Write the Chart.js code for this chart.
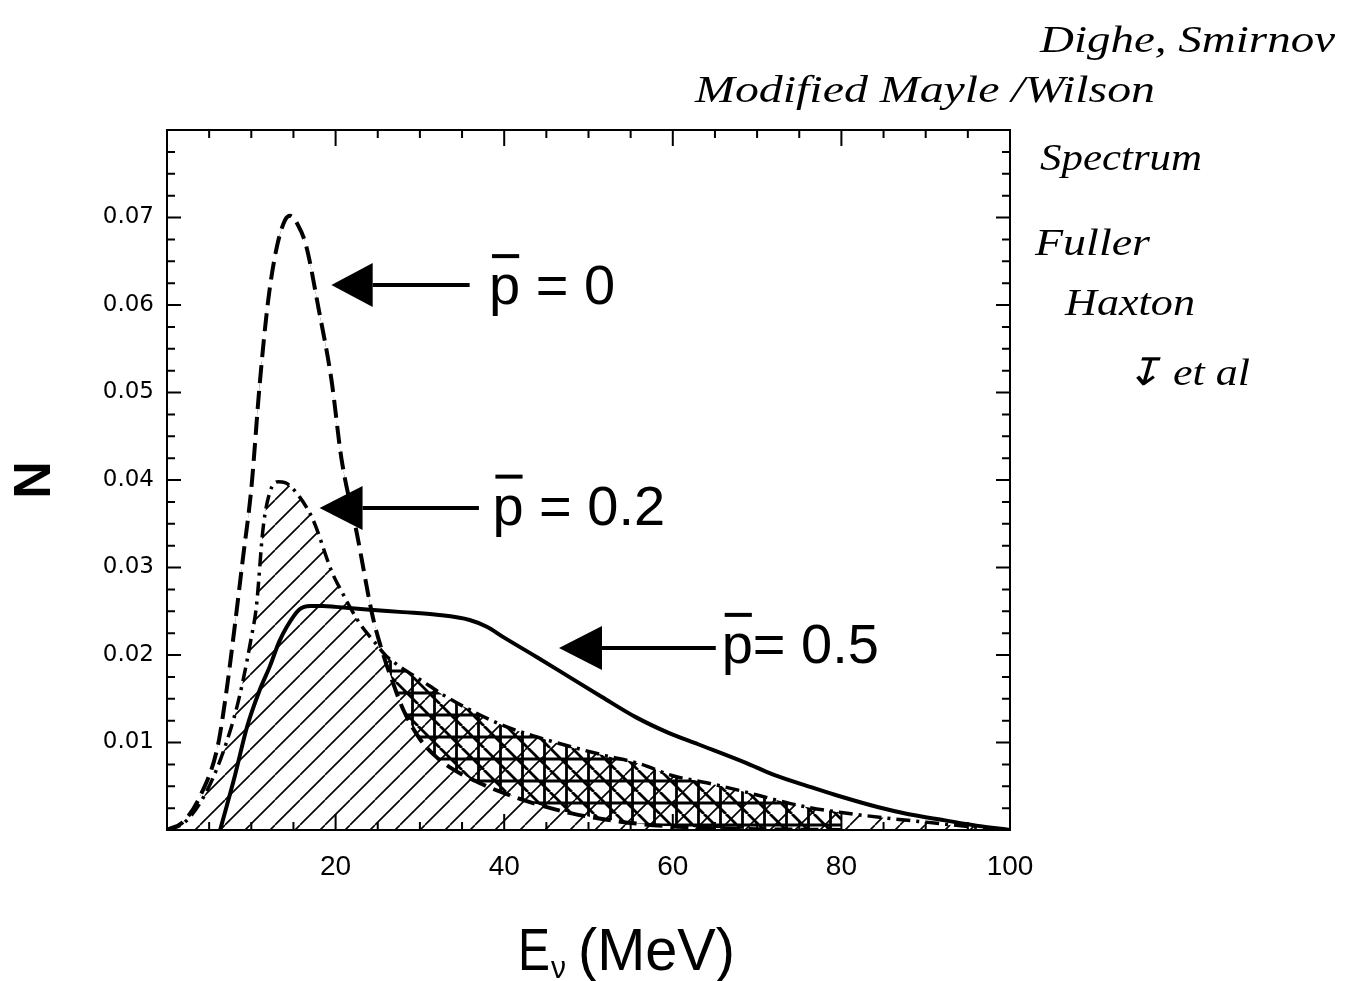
<!DOCTYPE html>
<html>
<head>
<meta charset="utf-8">
<script src="https://cdn.jsdelivr.net/npm/chart.js@4.4.0/dist/chart.umd.min.js"></script>
<style>
  html, body { margin: 0; padding: 0; background: #fff; }
  canvas { display: block; }
</style>
</head>
<body>
<canvas id="spectrumChart" width="1349" height="981"></canvas>
<script>
// E_nu (MeV) and N, one pair of arrays per p-bar curve
const energyP0 = [0, 2, 4, 6, 7, 8, 9, 10, 11, 12, 13, 14, 14.6, 15.5, 16.5, 18, 19.5, 20.7, 22.5, 24.4, 25.5, 27, 28, 30, 32, 34, 37, 40, 44, 48, 52, 56, 60, 70, 80];
const nP0 = [0, 0.001, 0.004, 0.0095, 0.0155, 0.023, 0.031, 0.039, 0.051, 0.0605, 0.0665, 0.0697, 0.0702, 0.0692, 0.0668, 0.0595, 0.0515, 0.0424, 0.034, 0.0244, 0.0205, 0.0163, 0.0138, 0.0104, 0.0083, 0.0069, 0.0054, 0.0042, 0.0029, 0.0019, 0.0012, 0.0007, 0.0004, 0.0001, 0];

const energyP02 = [0, 2, 4, 6, 8, 9, 10, 10.6, 11.4, 12.2, 13.2, 14, 15.7, 17.3, 19.6, 20.8, 22.8, 24.6, 26, 27.6, 30, 33, 36, 40, 44, 48, 52, 56, 60, 64, 68, 72, 76, 80, 85, 90, 95, 100];
const nP02 = [0, 0.0008, 0.0032, 0.0072, 0.013, 0.017, 0.022, 0.0255, 0.0345, 0.0386, 0.0398, 0.0397, 0.0381, 0.0355, 0.0294, 0.0271, 0.0237, 0.0215, 0.0199, 0.0187, 0.0172, 0.0153, 0.0137, 0.0119, 0.0106, 0.0095, 0.0085, 0.0076, 0.0062, 0.0054, 0.0045, 0.0035, 0.0026, 0.002, 0.0014, 0.0009, 0.0004, 0];

const energyP05 = [6.3, 8, 9.5, 11, 12.2, 13.3, 14.2, 15.7, 17, 18.5, 20, 23.7, 28, 32, 35.9, 38, 39.8, 43.8, 47.7, 51.6, 55.6, 59.5, 63, 68.6, 72, 76.4, 80, 84.4, 88, 92.3, 96, 100];
const nP05 = [0, 0.006, 0.0118, 0.016, 0.0187, 0.0215, 0.0232, 0.0252, 0.0256, 0.0256, 0.0255, 0.0252, 0.0249, 0.0246, 0.024, 0.0232, 0.0221, 0.0198, 0.0175, 0.0152, 0.0129, 0.0111, 0.0098, 0.0077, 0.0063, 0.0049, 0.0038, 0.0026, 0.0018, 0.0011, 0.0005, 0];

const xTickLabels = [20, 40, 60, 80, 100];
const yTickLabels = ['0.01', '0.02', '0.03', '0.04', '0.05', '0.06', '0.07'];
const curveLabels = ['0', '0.2', '0.5'];

const toPoints = (xs, ys) => xs.map((e, i) => ({ x: e, y: ys[i] }));

const ctx = document.getElementById('spectrumChart').getContext('2d');

function makePattern(size, draw) {
    const c = document.createElement('canvas');
    c.width = c.height = size;
    const g = c.getContext('2d');
    g.strokeStyle = '#000';
    draw(g, size);
    return ctx.createPattern(c, 'repeat');
}

// single "/" hatch under the p=0.2 curve
const hatch = makePattern(25, (g, s) => {
    g.lineWidth = 1.6;
    g.beginPath();
    for (const k of [-1, 0, 1]) { g.moveTo(k * s, s); g.lineTo(k * s + s, 0); }
    g.stroke();
});

// heavy cross hatch between p=0 and p=0.2 in the tail
const crossHatch = makePattern(22, (g, s) => {
    g.lineWidth = 2.8;
    g.beginPath();
    for (const k of [-1, 0, 1]) { g.moveTo(k * s, 0); g.lineTo(k * s + s, s); }
    g.moveTo(0, s / 2); g.lineTo(s, s / 2);
    g.moveTo(s * 0.75, 0); g.lineTo(s * 0.75, s);
    g.stroke();
});

// arrows + labels, in data coordinates
const arrows = [
    { tip: [19.5, 0.0623], back: 24.4, end: 35.9, text: [38.2, 0.0601], rest: ' = ' },
    { tip: [18.1, 0.0368], back: 23.2, end: 37.0, text: [38.6, 0.0349], rest: ' = ' },
    { tip: [46.5, 0.0208], back: 51.6, end: 65.1, text: [65.8, 0.0191], rest: '= ' }
];

// squeeze/stretch a string to a given width
function fitText(c, text, x, y, w) {
    const m = c.measureText(text).width;
    c.save();
    c.translate(x, y);
    c.scale(w / m, 1);
    c.fillText(text, 0, 0);
    c.restore();
}

const decor = {
    id: 'decor',
    beforeDraw(chart) {
        const c = chart.ctx;
        c.save();
        c.fillStyle = '#fff';
        c.fillRect(0, 0, chart.width, chart.height);
        c.restore();
    },
    afterDraw(chart) {
        const { ctx: c, chartArea: a, scales: { x, y } } = chart;
        c.save();
        c.strokeStyle = '#000';
        c.fillStyle = '#000';

        // frame with inward ticks on all sides
        c.lineWidth = 2;
        c.strokeRect(a.left, a.top, a.right - a.left, a.bottom - a.top);
        c.beginPath();
        for (let v = 5; v < 100; v += 5) {
            const px = x.getPixelForValue(v);
            const len = v % 20 === 0 ? 16 : 8;
            c.moveTo(px, a.bottom); c.lineTo(px, a.bottom - len);
            c.moveTo(px, a.top); c.lineTo(px, a.top + len);
        }
        for (let k = 1; k < 32; k++) {
            const py = y.getPixelForValue(k * 0.0025);
            const len = k % 4 === 0 ? 14 : 8;
            c.moveTo(a.left, py); c.lineTo(a.left + len, py);
            c.moveTo(a.right, py); c.lineTo(a.right - len, py);
        }
        c.stroke();

        // arrows and p-bar labels
        arrows.forEach((ar, i) => {
            const tx = x.getPixelForValue(ar.tip[0]);
            const ty = y.getPixelForValue(ar.tip[1]);
            const bx = x.getPixelForValue(ar.back);
            const ex = x.getPixelForValue(ar.end);
            c.beginPath();
            c.moveTo(tx, ty);
            c.lineTo(bx, ty - 22);
            c.lineTo(bx, ty + 22);
            c.closePath();
            c.fill();
            c.lineWidth = 4;
            c.beginPath();
            c.moveTo(bx, ty); c.lineTo(ex, ty);
            c.stroke();

            const lx = x.getPixelForValue(ar.text[0]);
            const ly = y.getPixelForValue(ar.text[1]);
            c.font = '56px "Liberation Sans", Arial, sans-serif';
            c.textAlign = 'left';
            c.textBaseline = 'alphabetic';
            c.fillText('p', lx, ly);
            const pw = c.measureText('p').width;
            c.fillRect(lx + 3, ly - 50, pw - 4, 4);
            c.fillText(ar.rest + curveLabels[i], lx + pw, ly);
        });

        // y title
        c.save();
        c.translate(36, 480);
        c.rotate(-Math.PI / 2);
        c.font = 'bold 52px "Liberation Sans", Arial, sans-serif';
        c.textAlign = 'center';
        c.textBaseline = 'middle';
        c.fillText('N', 0, 0);
        c.restore();

        // x title  E_nu (MeV)
        c.textAlign = 'left';
        c.textBaseline = 'alphabetic';
        c.font = '60px "Liberation Sans", Arial, sans-serif';
        fitText(c, 'E', 518, 970, 32);
        c.font = '32px "Liberation Sans", Arial, sans-serif';
        fitText(c, 'ν', 551, 978, 15);
        c.font = '60px "Liberation Sans", Arial, sans-serif';
        fitText(c, '(MeV)', 578, 970, 157);

        // handwritten notes
        c.font = 'italic 38px "Liberation Serif", serif';
        fitText(c, 'Dighe, Smirnov', 1040, 52, 295);
        fitText(c, 'Modified Mayle /Wilson', 695, 102, 460);
        fitText(c, 'Spectrum', 1040, 170, 162);
        fitText(c, 'Fuller', 1035, 255, 115);
        fitText(c, 'Haxton', 1065, 315, 130);
        fitText(c, '\u21A7 et al', 1125, 385, 125);

        c.restore();
    }
};

new Chart(ctx, {
    type: 'line',
    data: {
        datasets: [
            {
                label: 'p = 0',
                data: toPoints(energyP0, nP0),
                borderColor: '#000',
                borderWidth: 4,
                borderDash: [18, 8],
                pointRadius: 0,
                fill: false,
                cubicInterpolationMode: 'monotone'
            },
            {
                label: 'p = 0.2',
                data: toPoints(energyP02, nP02),
                borderColor: '#000',
                borderWidth: 3.5,
                borderDash: [14, 6, 3, 6],
                pointRadius: 0,
                fill: { target: 'origin', above: hatch },
                cubicInterpolationMode: 'monotone'
            },
            {
                label: 'p = 0.5',
                data: toPoints(energyP05, nP05),
                borderColor: '#000',
                borderWidth: 4,
                pointRadius: 0,
                fill: false,
                cubicInterpolationMode: 'monotone'
            },
            {
                label: 'p = 0.2 over p = 0',
                data: toPoints(energyP02, nP02),
                borderWidth: 0,
                borderColor: 'rgba(0,0,0,0)',
                pointRadius: 0,
                fill: { target: 0, above: crossHatch, below: 'rgba(0,0,0,0)' },
                cubicInterpolationMode: 'monotone'
            }
        ]
    },
    options: {
        responsive: false,
        animation: false,
        layout: { padding: { left: 0, top: 130, right: 339, bottom: 0 } },
        plugins: {
            legend: { display: false },
            tooltip: { enabled: false }
        },
        scales: {
            x: {
                type: 'linear',
                min: 0,
                max: 100,
                grid: { display: false, drawTicks: false },
                border: { display: false },
                ticks: {
                    stepSize: 20,
                    padding: 20,
                    color: '#000',
                    maxRotation: 0,
                    autoSkip: false,
                    font: { family: '"Liberation Sans", Arial', size: 28 },
                    callback: v => xTickLabels.includes(v) ? String(v) : ''
                },
                afterFit: s => { s.height = 151; }
            },
            y: {
                min: 0,
                max: 0.08,
                grid: { display: false, drawTicks: false },
                border: { display: false },
                ticks: {
                    stepSize: 0.01,
                    padding: 13,
                    color: '#000',
                    font: { family: '"DejaVu Sans", Arial', size: 23 },
                    callback: v => {
                        const t = Number(v).toFixed(2);
                        return yTickLabels.includes(t) ? t : '';
                    }
                },
                afterFit: s => { s.width = 167; }
            }
        }
    },
    plugins: [decor]
});
</script>
</body>
</html>
